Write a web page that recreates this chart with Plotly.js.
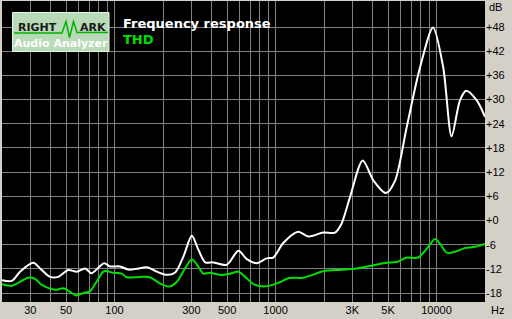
<!DOCTYPE html>
<html><head><meta charset="utf-8">
<script src="https://cdn.plot.ly/plotly-3.0.1.min.js"></script>
<style>html,body{margin:0;padding:0;background:#d4d0c8;}#c{width:512px;height:319px;}</style>
</head><body><div id="c"></div>
<script>
// Frequency response (white)
const frFreq = [20,23,25.9,31.3,34.5,39.7,44.7,51.6,58.2,65.6,72,86,93.8,108,122,137,159,183,211,238,268,302,332,366,410,498,588,663,764,882,968,1116,1382,1600,1980,2340,2570,2900,3480,4060,4850,5530,6530,7900,9510,11000,12400,13980,15270,17780,20000];
const frDb   = [-14.8,-15,-12.7,-10.5,-11.9,-14,-14,-12.3,-12.7,-11.9,-13.1,-10.6,-11.4,-11.4,-12.2,-12,-11.6,-12.7,-13.5,-12.9,-8.9,-3.8,-7.3,-10.4,-10.4,-11,-7.5,-9.6,-10.6,-9.4,-9.2,-5.6,-2.8,-4,-3,-3,-0.8,5.8,14.9,9.9,6.8,9.9,23.2,38,47.9,38,20.9,29.8,32.2,29.8,25.7];
// THD (green)
const thdFreq = [20,23,29.1,32.1,35.3,42.5,48.1,51.6,57.6,64.3,70.4,77.3,86,98.9,111,119,144,166,191,219,244,302,332,356,392,452,522,588,648,730,843,1020,1221,1478,2030,2390,3180,4060,4900,5660,6530,7700,8700,9800,10530,11580,13000,15070,16960,20000];
const thdDb   = [-15.8,-16.2,-14.2,-14.5,-16,-17.2,-16.8,-17.4,-18.6,-18,-17.6,-15.2,-12.6,-13,-13.2,-14.1,-14,-14.1,-15.6,-16.4,-15.2,-9.7,-11.5,-13.2,-13,-13.5,-13.2,-12.7,-14,-15.8,-16.4,-15.6,-14.3,-14.2,-12.5,-12.3,-11.9,-11.1,-10.5,-10.3,-9.2,-9.2,-7,-4.6,-5.8,-8,-7.8,-6.8,-6.6,-5.8];
// Axis ticks
const xTickVals = [20,30,40,50,60,70,80,90,100,200,300,400,500,600,700,800,900,1000,2000,3000,4000,5000,6000,7000,8000,9000,10000,20000];
const xTickText = ["","30","","50","","","","","100","","300","","500","","","","","1000","","3K","","5K","","","","","10000",""];
const yTickVals = [-18,-12,-6,0,6,12,18,24,30,36,42,48];
const yTickText = ["-18","-12","-6","+0","+6","+12","+18","+24","+30","+36","+42","+48"];

// pixel -> paper helpers (plot area x 2..485, y 1..302)
const L=2,R=485,T=1,B=302;
const px = x => (x-L)/(R-L);
const py = y => (B-y)/(B-T);

const traces = [
  {x: frFreq, y: frDb, type:'scatter', mode:'lines', line:{color:'#ffffff', width:2, shape:'spline', smoothing:0.8}, hoverinfo:'none'},
  {x: thdFreq, y: thdDb, type:'scatter', mode:'lines', line:{color:'#00e000', width:2, shape:'spline', smoothing:0.8}, hoverinfo:'none'}
];

const zig = `M ${px(14)} ${py(33)} L ${px(62)} ${py(33)} L ${px(66)} ${py(21.5)} L ${px(69.5)} ${py(37.5)} L ${px(73.5)} ${py(21.5)} L ${px(77)} ${py(32.5)} L ${px(108)} ${py(32.5)}`;

const layout = {
  width:512, height:319,
  margin:{l:L, r:512-R, t:T, b:319-B, pad:0},
  paper_bgcolor:'#d4d0c8', plot_bgcolor:'#000000',
  showlegend:false,
  font:{family:'Liberation Sans, Arial, sans-serif', size:11, color:'#000'},
  xaxis:{type:'log', range:[Math.log10(20), Math.log10(20000)], tickvals:xTickVals, ticktext:xTickText,
         showgrid:true, gridcolor:'#808080', gridwidth:1, zeroline:false, ticks:'', showline:false,
         tickfont:{family:'Liberation Sans, Arial, sans-serif', size:11, color:'#000'}, fixedrange:true},
  yaxis:{range:[-20.23, 54.45], side:'right', tickvals:yTickVals, ticktext:yTickText,
         showgrid:true, gridcolor:'#808080', gridwidth:1, zeroline:false, ticks:'', showline:false,
         tickfont:{family:'Liberation Sans, Arial, sans-serif', size:11, color:'#000'}, fixedrange:true},
  shapes:[
    {type:'rect', xref:'paper', yref:'paper', x0:px(12.5), x1:px(109), y0:py(51.5), y1:py(12.5), fillcolor:'#b8dab8', line:{color:'#e8f4e8', width:1}},
    {type:'path', xref:'paper', yref:'paper', path:zig, line:{color:'#00b400', width:1.5}}
  ],
  annotations:[
    {xref:'paper', yref:'paper', x:px(16), y:py(27), xanchor:'left', yanchor:'middle', text:'<b>RIGHT</b>', showarrow:false, font:{family:'DejaVu Sans, sans-serif', size:11, color:'#1a1a1a'}},
    {xref:'paper', yref:'paper', x:px(107.5), y:py(27), xanchor:'right', yanchor:'middle', text:'<b>ARK</b>', showarrow:false, font:{family:'DejaVu Sans, sans-serif', size:11, color:'#1a1a1a'}},
    {xref:'paper', yref:'paper', x:px(61), y:py(43.5), xanchor:'center', yanchor:'middle', text:'<b>Audio Analyzer</b>', showarrow:false, font:{family:'DejaVu Sans, sans-serif', size:11, color:'#ffffff'}},
    {xref:'paper', yref:'paper', x:px(121), y:py(23.5), xanchor:'left', yanchor:'middle', text:'<b>Frequency response</b>', showarrow:false, font:{family:'DejaVu Sans, sans-serif', size:13, color:'#ffffff'}},
    {xref:'paper', yref:'paper', x:px(121), y:py(39), xanchor:'left', yanchor:'middle', text:'<b>THD</b>', showarrow:false, font:{family:'DejaVu Sans, sans-serif', size:13, color:'#00e000'}},
    {xref:'paper', yref:'paper', x:px(487), y:py(7), xanchor:'left', yanchor:'middle', text:'dB', showarrow:false, font:{family:'Liberation Sans, Arial, sans-serif', size:11, color:'#000'}},
    {xref:'paper', yref:'paper', x:px(489), y:py(310), xanchor:'left', yanchor:'middle', text:'Hz', showarrow:false, font:{family:'Liberation Sans, Arial, sans-serif', size:11, color:'#000'}}
  ]
};
Plotly.newPlot('c', traces, layout, {displayModeBar:false, staticPlot:true});
</script></body></html>
